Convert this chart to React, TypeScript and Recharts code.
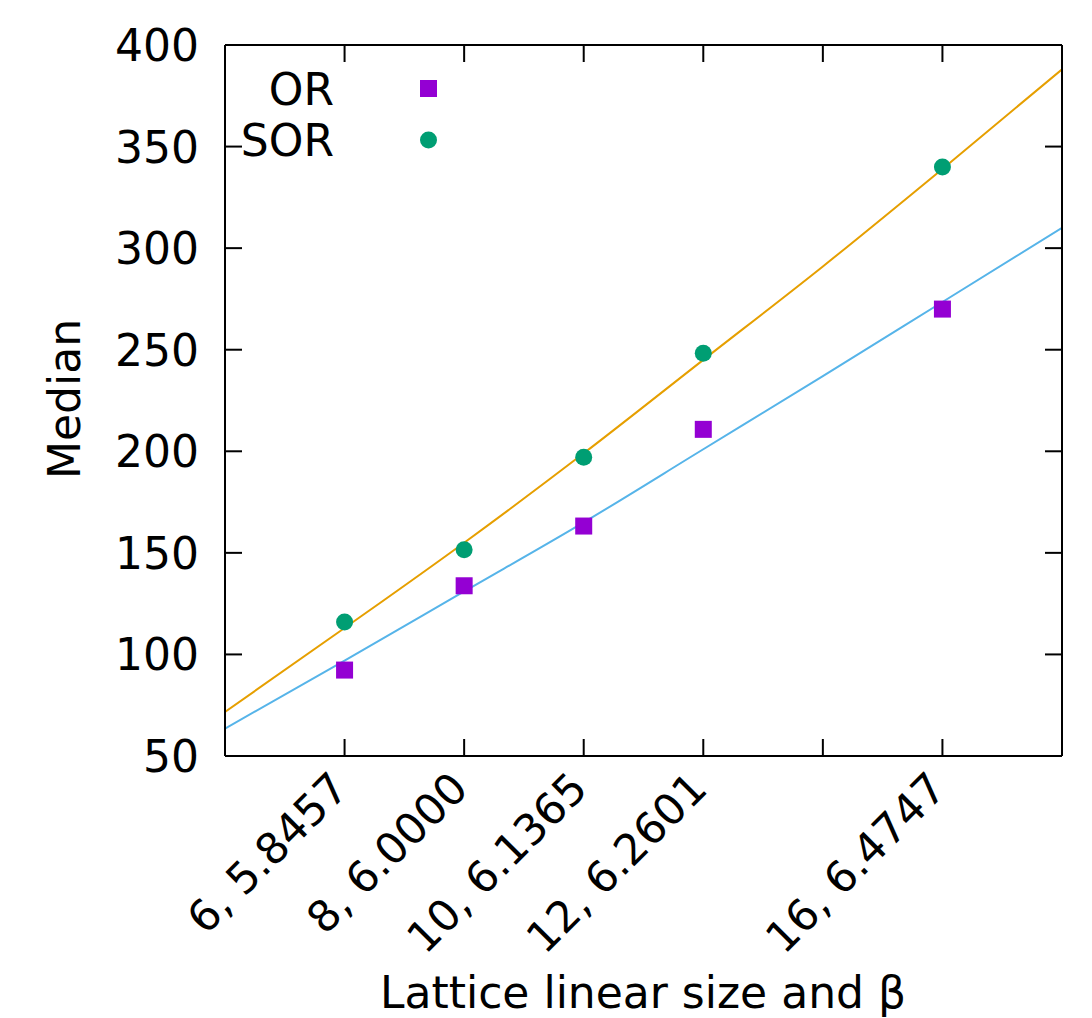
import { ComposedChart, Scatter, Line, XAxis, YAxis } from 'recharts'

const LATTICE_SIZE = [6, 8, 10, 12, 16]
const OR_MEDIAN = [92.3, 133.8, 163.2, 210.8, 270]
const SOR_MEDIAN = [116, 151.5, 197.1, 248.3, 340]

// fitted curves
const FIT_SIZE = [4, 6, 8, 10, 12, 14, 16, 18]
const OR_FIT = [63.5, 97, 131, 165, 201, 237, 273.5, 310]
const SOR_FIT = [71.7, 113, 155, 199, 245, 291, 339, 388]

const X_TICKS = [6, 8, 10, 12, 14, 16]
const X_TICK_LABELS = ['6, 5.8457', '8, 6.0000', '10, 6.1365', '12, 6.2601', '', '16, 6.4747']
const Y_TICKS = [50, 100, 150, 200, 250, 300, 350, 400]

const FONT = 'DejaVu Sans'
const TICK_LEN = 17
const OR_COLOR = '#9400d3'
const SOR_COLOR = '#009e73'
const OR_FIT_COLOR = '#56b4e9'
const SOR_FIT_COLOR = '#e69f00'

const orPoints = LATTICE_SIZE.map((x, i) => ({ x, y: OR_MEDIAN[i] }))
const sorPoints = LATTICE_SIZE.map((x, i) => ({ x, y: SOR_MEDIAN[i] }))
const orFit = FIT_SIZE.map((x, i) => ({ x, y: OR_FIT[i] }))
const sorFit = FIT_SIZE.map((x, i) => ({ x, y: SOR_FIT[i] }))

const BottomTick = ({ x, y, payload }: any) => {
  const label = X_TICK_LABELS[X_TICKS.indexOf(payload.value)]
  const tx = x + 6
  const ty = y + 35
  return (
    <g>
      <line x1={x} x2={x} y1={y} y2={y - TICK_LEN} stroke="#000" strokeWidth={2} />
      {label && (
        <text x={tx} y={ty} textAnchor="end" transform={`rotate(-45, ${tx}, ${ty})`}
          fontSize={43} fontFamily={FONT} fill="#000">
          {label}
        </text>
      )}
    </g>
  )
}

const TopTick = ({ x, y }: any) => (
  <line x1={x} x2={x} y1={y} y2={y + TICK_LEN} stroke="#000" strokeWidth={2} />
)

const LeftTick = ({ x, y, payload }: any) => (
  <g>
    <line x1={x} x2={x + TICK_LEN} y1={y} y2={y} stroke="#000" strokeWidth={2} />
    <text x={x - 26} y={y + 16} textAnchor="end" fontSize={44} fontFamily={FONT} fill="#000">
      {payload.value}
    </text>
  </g>
)

const RightTick = ({ x, y }: any) => (
  <line x1={x} x2={x - TICK_LEN} y1={y} y2={y} stroke="#000" strokeWidth={2} />
)

const SquareDot = ({ cx, cy }: any) => (
  <rect x={cx - 8.5} y={cy - 8.5} width={17} height={17} fill={OR_COLOR} />
)

const CircleDot = ({ cx, cy }: any) => <circle cx={cx} cy={cy} r={8.5} fill={SOR_COLOR} />

const axisLine = { stroke: '#000', strokeWidth: 2 }

export default function App() {
  return (
    <div style={{ position: 'relative', width: 1092, height: 1018, background: '#fff' }}>
      <style>{'body{margin:0;overflow:hidden}'}</style>
      <ComposedChart width={1092} height={1018} margin={{ top: 0, right: 0, bottom: 0, left: 0 }}>
        <XAxis dataKey="x" type="number" domain={[4, 18]} ticks={X_TICKS} interval={0}
          allowDataOverflow height={262} axisLine={axisLine} tickLine={false}
          tickSize={0} tickMargin={0} tick={<BottomTick />} />
        <XAxis xAxisId="top" orientation="top" dataKey="x" type="number" domain={[4, 18]}
          ticks={X_TICKS} interval={0} allowDataOverflow height={45} axisLine={axisLine}
          tickLine={false} tickSize={0} tickMargin={0} tick={<TopTick />} />
        <YAxis type="number" domain={[50, 400]} ticks={Y_TICKS} interval={0} allowDataOverflow
          width={225} axisLine={axisLine} tickLine={false} tickSize={0} tickMargin={0}
          tick={<LeftTick />} />
        <YAxis yAxisId="right" orientation="right" type="number" domain={[50, 400]}
          ticks={Y_TICKS} interval={0} allowDataOverflow width={30} axisLine={axisLine}
          tickLine={false} tickSize={0} tickMargin={0} tick={<RightTick />} />

        <Scatter data={orPoints} dataKey="y" shape={<SquareDot />} isAnimationActive={false} />
        <Scatter data={sorPoints} dataKey="y" shape={<CircleDot />} isAnimationActive={false} />
        <Line data={orFit} dataKey="y" type="monotone" stroke={OR_FIT_COLOR} strokeWidth={2}
          dot={false} activeDot={false} isAnimationActive={false} />
        <Line data={sorFit} dataKey="y" type="monotone" stroke={SOR_FIT_COLOR} strokeWidth={2}
          dot={false} activeDot={false} isAnimationActive={false} />
      </ComposedChart>

      {/* titles and key */}
      <svg width={1092} height={1018} style={{ position: 'absolute', left: 0, top: 0, pointerEvents: 'none' }}>
        <text x={0} y={0} transform="translate(80, 399) rotate(-90)" textAnchor="middle"
          fontSize={44} fontFamily={FONT} fill="#000">Median</text>
        <text x={643} y={1008} textAnchor="middle" fontSize={44} fontFamily={FONT} fill="#000">
          Lattice linear size and β
        </text>
        <text x={334} y={105} textAnchor="end" fontSize={44} fontFamily={FONT} fill="#000">OR</text>
        <rect x={420} y={80} width={17} height={17} fill={OR_COLOR} />
        <text x={334} y={156} textAnchor="end" fontSize={44} fontFamily={FONT} fill="#000">SOR</text>
        <circle cx={428.5} cy={140} r={8.5} fill={SOR_COLOR} />
      </svg>
    </div>
  )
}
